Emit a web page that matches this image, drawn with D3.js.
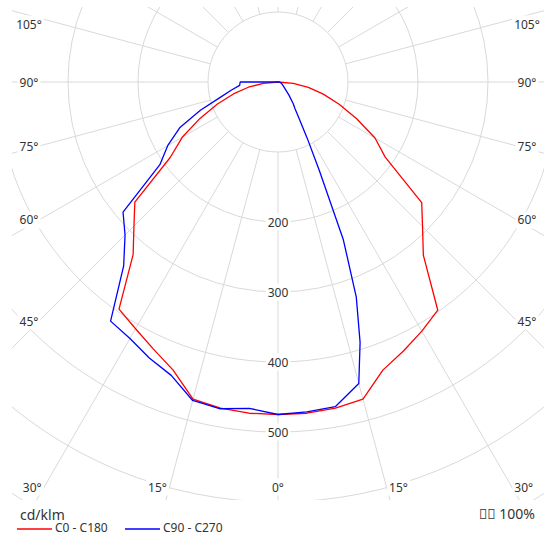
<!DOCTYPE html>
<html>
<head>
<meta charset="utf-8">
<script src="https://cdnjs.cloudflare.com/ajax/libs/d3/7.8.5/d3.min.js"></script>
<style>
  body { margin: 0; background: #fff; }
  svg { font-family: "Noto Sans", sans-serif; }
</style>
</head>
<body>
<svg id="polar" width="544" height="544"></svg>
<script>
// gamma angles (deg from nadir) and luminous intensity in cd/klm
var gammaSteps = [0, 5, 10, 15, 20, 25, 30, 35, 40, 45, 50, 55, 60, 65, 70, 75, 80, 85, 90];
var c0   = [475, 475, 473, 469, 438, 424, 411, 398, 323, 292, 268, 187, 160, 124, 93, 67, 44, 22, 0];
var c180 = [475, 475, 473, 469, 438, 421, 407, 396, 322, 291, 267, 188, 158, 123, 92, 66, 43, 21, 0];
var c270 = [475, 468, 474, 471, 446, 435, 423, 417, 343, 309, 289, 206, 182, 155, 118, 86, 68, 55, 54];

// the C90 half is read on a finer step, it drops off fast
var gammaC90 = [0, 5, 10, 15, 17.5, 20, 22.5, 25, 27.5, 30, 32.5, 35, 40, 45, 50, 60, 70, 80, 90];
var c90      = [475, 473, 471, 446, 390, 327, 244, 140, 90, 60, 45, 38, 24, 15, 11, 7, 5, 3, 2];

var ringValues = [100, 200, 300, 400, 500, 600, 700, 800];
var ringLabels = [200, 300, 400, 500];
var spokeAngles = d3.range(0, 360, 15);
var angleLabels = [0, 15, 30, 45, 60, 75, 90, 105];

var seriesNames = ["C0 - C180", "C90 - C270"];
var unitLabel = "cd/klm";
var ratioLabel = "\uE000\uE001 100%";

var colors = ["#ff0000", "#0000ff"];
var gridColor = "#d9d9d9";
var textColor = "#333";

var svg = d3.select("#polar");
var cx = 278, cy = 82;
var frame = { left: 12, top: 7, right: 544, bottom: 500 };

var r = d3.scaleLinear().domain([0, 100]).range([0, 70]);
var rad = Math.PI / 180;

svg.append("clipPath").attr("id", "frame")
    .append("rect")
    .attr("x", frame.left).attr("y", frame.top)
    .attr("width", frame.right - frame.left)
    .attr("height", frame.bottom - frame.top);

var grid = svg.append("g").attr("clip-path", "url(#frame)")
    .append("g").attr("transform", "translate(" + cx + "," + cy + ")");

//rings
grid.selectAll("circle.ring")
    .data(ringValues)
    .enter()
    .append("circle")
    .attr("class", "ring")
    .attr("r", function (d) { return r(d); })
    .attr("fill", "none")
    .attr("stroke", gridColor)
    .attr("stroke-width", 1);

//spokes, they start at the 100 ring
grid.selectAll("line.spoke")
    .data(spokeAngles)
    .enter()
    .append("line")
    .attr("class", "spoke")
    .attr("x1", function (d) { return r(100) * Math.sin(d * rad); })
    .attr("y1", function (d) { return r(100) * Math.cos(d * rad); })
    .attr("x2", function (d) { return r(900) * Math.sin(d * rad); })
    .attr("y2", function (d) { return r(900) * Math.cos(d * rad); })
    .attr("stroke", gridColor)
    .attr("stroke-width", 1);

// one C plane pair -> list of radial points, left half from 90 down to 0, then right half back up
function planePoints(leftGamma, leftValues, rightGamma, rightValues) {
    var left = leftGamma.map(function (gm, i) {
        return { a: Math.PI + gm * rad, v: leftValues[i] };
    }).reverse();
    var right = rightGamma.map(function (gm, i) {
        return { a: Math.PI - gm * rad, v: rightValues[i] };
    });
    return left.concat(right);
}

var curves = [
    planePoints(gammaSteps, c180, gammaSteps, c0),
    planePoints(gammaSteps, c270, gammaC90, c90)
];

var radialLine = d3.lineRadial()
    .angle(function (d) { return d.a; })
    .radius(function (d) { return r(d.v); })
    .curve(d3.curveLinearClosed);

svg.append("g")
    .attr("transform", "translate(" + cx + "," + cy + ")")
    .selectAll("path.curve")
    .data(curves)
    .enter()
    .append("path")
    .attr("class", "curve")
    .attr("d", radialLine)
    .attr("fill", "none")
    .attr("stroke", function (d, i) { return colors[i]; })
    .attr("stroke-width", 1.3)
    .attr("stroke-linejoin", "round");

// text with a white box behind it
function boxedText(parent, x, y, txt, anchor) {
    var grp = parent.append("g");
    var t = grp.append("text")
        .attr("x", x).attr("y", y)
        .attr("text-anchor", anchor)
        .attr("dominant-baseline", "central")
        .attr("font-size", 12)
        .attr("fill", textColor)
        .text(txt);
    var bb = t.node().getBBox();
    grp.insert("rect", "text")
        .attr("x", bb.x - 2).attr("y", bb.y)
        .attr("width", bb.width + 4).attr("height", bb.height)
        .attr("fill", "#fff");
}

var labels = svg.append("g");

//ring values down the 0 spoke
ringLabels.forEach(function (v) {
    boxedText(labels, cx, cy + r(v), String(v), "middle");
});

//angle labels where the spokes leave the plot
var edge = { left: cx - 249, right: cx + 249, top: 15, bottom: 487 };

function edgeHit(gm) {
    var dx = Math.sin(gm * rad), dy = Math.cos(gm * rad);
    var hits = [];
    if (dx > 1e-9) hits.push({ t: (edge.right - cx) / dx, side: "right" });
    if (dx < -1e-9) hits.push({ t: (edge.left - cx) / dx, side: "left" });
    if (dy > 1e-9) hits.push({ t: (edge.bottom - cy) / dy, side: "bottom" });
    if (dy < -1e-9) hits.push({ t: (edge.top - cy) / dy, side: "top" });
    var h = hits.sort(function (a, b) { return a.t - b.t; })[0];
    return { x: cx + h.t * dx, y: cy + h.t * dy, side: h.side };
}

angleLabels.forEach(function (a) {
    var signs = a === 0 ? [1] : [1, -1];
    signs.forEach(function (s) {
        var p = edgeHit(s * a);
        var txt = a + "\u00b0";
        if (p.side === "bottom") {
            if (a === 0) boxedText(labels, p.x, p.y, txt, "middle");
            else if (s > 0) boxedText(labels, p.x + 2.5, p.y, txt, "start");
            else boxedText(labels, p.x - 2.5, p.y, txt, "end");
        } else if (p.side === "left" || p.side === "right") {
            // the spoke passes the inner corner of the label
            var inner = Math.abs(p.x - cx) - 10;
            var y = a === 90 ? cy : Math.max(cy + inner / Math.tan(a * rad), 24);
            boxedText(labels, p.x, y, txt, "middle");
        }
    });
});

//unit and legend
svg.append("text")
    .attr("x", 20).attr("y", 520)
    .attr("font-size", 14)
    .attr("fill", textColor)
    .text(unitLabel);

var legend = svg.selectAll("g.legend")
    .data(seriesNames)
    .enter()
    .append("g")
    .attr("class", "legend")
    .attr("transform", function (d, i) { return "translate(" + (17 + i * 108) + ",529)"; });

legend.append("line")
    .attr("x1", 0).attr("x2", 35)
    .attr("y1", 0).attr("y2", 0)
    .attr("stroke", function (d, i) { return colors[i]; })
    .attr("stroke-width", 1.3);

legend.append("text")
    .attr("x", 38).attr("y", 3)
    .attr("font-size", 12)
    .attr("fill", textColor)
    .text(function (d) { return d; });

svg.append("text")
    .attr("x", 535).attr("y", 519)
    .attr("text-anchor", "end")
    .attr("font-size", 14)
    .attr("fill", textColor)
    .text(ratioLabel);
</script>
</body>
</html>
